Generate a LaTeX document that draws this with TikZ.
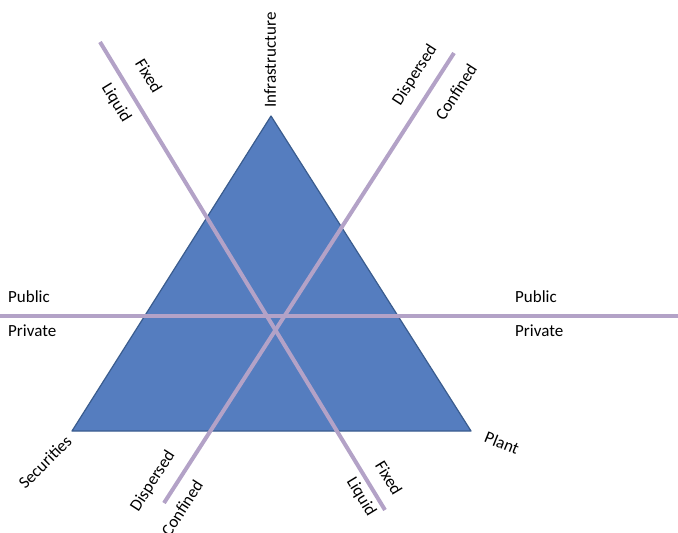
\documentclass[tikz,border=0pt]{standalone}
\usepackage{fontspec}
\setmainfont{Carlito}
\definecolor{triblue}{HTML}{557DBF}
\definecolor{triedge}{HTML}{3A5C8E}
\definecolor{lavender}{HTML}{B3A2C7}
\tikzset{
  axisline/.style={lavender, line width=4pt},
  lbl/.style={inner sep=1pt, font=\fontsize{17}{19}\selectfont},
}
\begin{document}
\begin{tikzpicture}[x=1pt,y=-1pt]
\useasboundingbox (0,0) rectangle (678,533);
% triangle
\coordinate (top) at (271,116);
\coordinate (bl) at (72,431);
\coordinate (br) at (471,431);
\draw[triedge, fill=triblue, line width=1.2pt, line join=round] (top) -- (bl) -- (br) -- cycle;
% public / private
\coordinate (h1) at (0,316);
\coordinate (h2) at (678,316);
\draw[axisline] (h1) -- (h2);
% fixed / liquid
\coordinate (f1) at (100,42);
\coordinate (f2) at (385,510);
\draw[axisline] (f1) -- (f2);
% dispersed / confined
\coordinate (d1) at (454,53);
\coordinate (d2) at (164,503);
\draw[axisline] (d1) -- (d2);
% labels
\node[lbl, anchor=west] (publ) at (7,297) {Public};
\node[lbl, anchor=west] (privl) at (7,331) {Private};
\node[lbl, anchor=west] (pubr) at (514,297) {Public};
\node[lbl, anchor=west] (privr) at (514,331) {Private};
\node[lbl, rotate=90] (infra) at (270,60) {Infrastructure};
\node[lbl, rotate=-58.7] (fixt) at (149,76) {Fixed};
\node[lbl, rotate=-58.7] (liqt) at (116,103) {Liquid};
\node[lbl, rotate=57.2] (dispt) at (415,75) {Dispersed};
\node[lbl, rotate=57.2] (conft) at (456,92) {Confined};
\node[lbl, rotate=45] (secur) at (45,462) {Securities};
\node[lbl, rotate=57.2] (dispb) at (153,481) {Dispersed};
\node[lbl, rotate=57.2] (confb) at (182,508) {Confined};
\node[lbl, rotate=-58.7] (fixb) at (389,478) {Fixed};
\node[lbl, rotate=-58.7] (liqb) at (361,497) {Liquid};
\node[lbl, rotate=-22] (plant) at (502,443) {Plant};
\end{tikzpicture}
\end{document}
